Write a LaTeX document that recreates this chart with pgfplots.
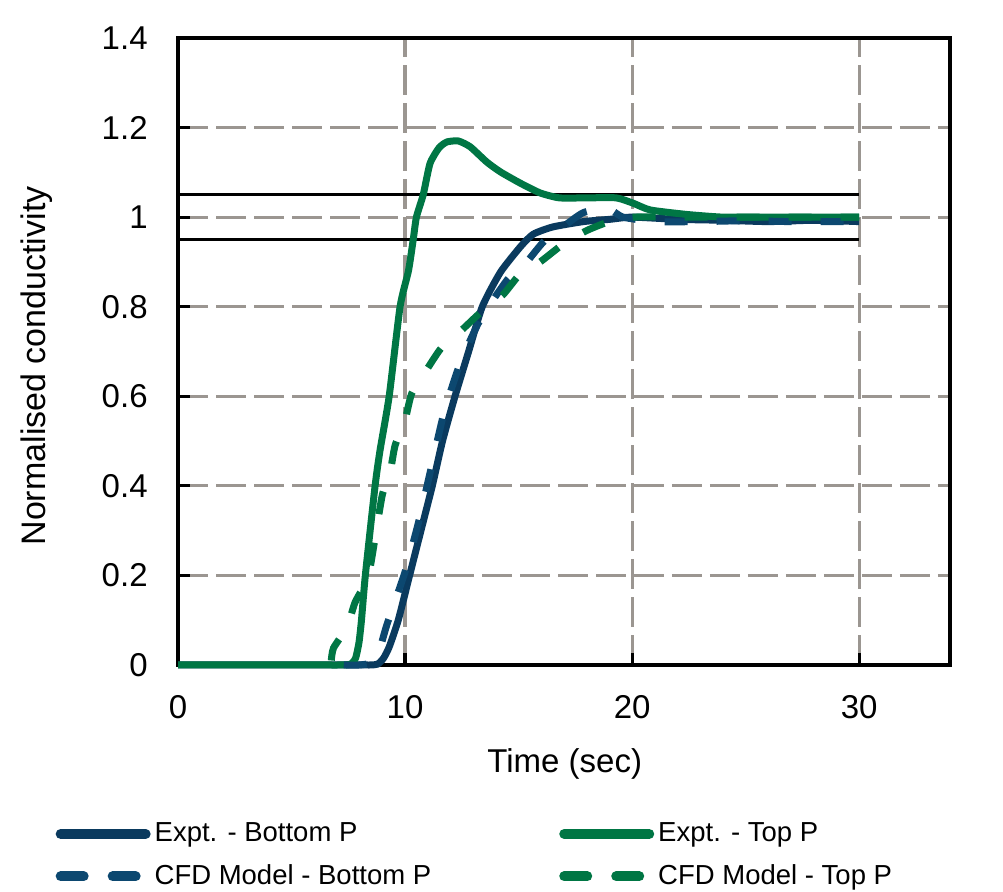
\documentclass[border=0pt]{standalone}
\usepackage{pgfplots}
\pgfplotsset{compat=1.18}
\usepackage{fontspec}
\setmainfont{Liberation Sans}
\definecolor{exptblue}{RGB}{10,58,94}
\definecolor{cfdblue}{RGB}{12,72,112}
\definecolor{cgreen}{RGB}{0,118,68}
\definecolor{gridgray}{RGB}{155,150,145}
\begin{document}
\begin{tikzpicture}
\begin{axis}[
  width=386pt, height=313.5pt, scale only axis,
  xmin=0, xmax=34, ymin=0, ymax=1.4,
  xtick={0,10,20,30},
  ytick={0,0.2,0.4,0.6,0.8,1,1.2,1.4},
  tick pos=left, tick align=inside,
  major tick length=6pt,
  every tick/.style={black, line width=1.6pt},
  grid=major,
  major grid style={color=gridgray, line width=1.6pt, dash pattern=on 15pt off 4pt},
  axis line style={line width=1.6pt, black},
  /pgf/number format/assume math mode=true,
  ticklabel style={font=\fontsize{16.5}{18}\selectfont},
  yticklabel style={/pgf/number format/fixed, /pgf/number format/precision=1, anchor=east, inner sep=0pt, xshift=-15pt},
  xticklabel style={anchor=base, inner sep=0pt, yshift=-27pt},
  xlabel={Time (sec)},
  ylabel={Normalised conductivity},
  every axis x label/.style={at={(axis description cs:0.501,-0.1722)}, anchor=base, font=\fontsize{16.5}{18}\selectfont},
  every axis y label/.style={at={(axis description cs:-0.1723,0.4769)}, rotate=90, anchor=base, font=\fontsize{17}{19}\selectfont},
  clip=false,
  legend columns=2,
  legend cell align=left,
  legend style={draw=none, fill=none, at={(axis description cs:-0.159,-0.245)}, anchor=north west,
    font=\fontsize{13.75}{16}\selectfont, row sep=6pt, inner sep=0pt,
    /tikz/every even column/.append style={column sep=62pt}},
  legend image code/.code={\draw[#1, line width=5pt, line cap=round] (2.5pt,0pt) -- (45pt,0pt);},
]
\path (axis description cs:-0.2306,-0.3589) rectangle (axis description cs:1.0687,1.0606);

\addplot[black, line width=1.5pt, forget plot] coordinates {(0,1.05) (30,1.05)};
\addplot[black, line width=1.5pt, forget plot] coordinates {(0,0.95) (30,0.95)};

% Expt. - Bottom P
\addplot[exptblue, line width=3.5pt, line join=round, smooth, tension=0.35] coordinates {
(0,0) (3,0) (6,0) (8,0) (8.5,0) (8.8,0.002) (9.05,0.015) (9.3,0.04) (9.7,0.1) (10.2,0.2) (10.7,0.3) (11.2,0.4) (11.65,0.5) (12.2,0.6) (12.8,0.7) (13.4,0.8) (14.2,0.877) (15.1,0.935) (15.65,0.962) (16.5,0.978) (17.85,0.99) (19,0.995) (20,1.0) (22,0.995) (24,0.993) (26,0.99) (28,0.993) (30,0.99)};
\addlegendentry{Expt. - Bottom P}

% Expt. - Top P
\addplot[cgreen, line width=3.5pt, line join=round, smooth, tension=0.35] coordinates {
(0,0) (3,0) (6,0) (7.2,0) (7.6,0.002) (7.82,0.015) (7.97,0.05) (8.08,0.1) (8.25,0.2) (8.68,0.4) (8.9,0.48) (9.3,0.6) (9.78,0.8) (10.15,0.88) (10.36,0.95) (10.5,1.0) (10.8,1.05) (11.1,1.12) (11.5,1.155) (11.85,1.168) (12.35,1.17) (12.87,1.157) (13.6,1.123) (14.2,1.101) (15.07,1.076) (15.95,1.054) (16.8,1.043) (18,1.043) (19.3,1.043) (20.05,1.031) (20.8,1.016) (22.4,1.006) (24,1.0) (26,1.0) (28,1.0) (30,1.0)};
\addlegendentry{Expt. - Top P}

% CFD Model - Bottom P
\addplot[cfdblue, line width=3.5pt, dash pattern=on 11.5pt off 14.5pt, smooth, tension=0.35] coordinates {
(7.3,0) (8,0) (8.5,0.005) (8.85,0.03) (9.2,0.09) (10.0,0.208) (10.6,0.32) (11.15,0.44) (11.7,0.56) (12.4,0.67) (13.3,0.77) (14.5,0.86) (15.2,0.89) (16.1,0.945) (17,0.98) (17.85,1.01) (18.9,1.02) (19.6,1.0) (21,0.99) (23,0.99) (25,0.992) (27,0.99) (30,0.99)};
\addlegendentry{CFD Model - Bottom P}

% CFD Model - Top P
\addplot[cgreen, line width=3.5pt, dash pattern=on 11.5pt off 14.5pt, smooth, tension=0.35] coordinates {
(6.75,0.01) (6.85,0.038) (7.45,0.085) (7.8,0.14) (8.37,0.196) (8.7,0.29) (9.0,0.38) (9.34,0.43) (9.56,0.49) (10.0,0.547) (10.3,0.607) (11.0,0.663) (11.6,0.708) (12.5,0.748) (13.3,0.786) (14.3,0.826) (15.07,0.873) (15.95,0.9) (16.97,0.94) (18.0,0.97) (19.0,0.99) (20.05,1.0) (22,1.0) (24,1.0) (26,1.0) (28,1.0) (30,1.0)};
\addlegendentry{CFD Model - Top P}
\end{axis}
\end{tikzpicture}
\end{document}
